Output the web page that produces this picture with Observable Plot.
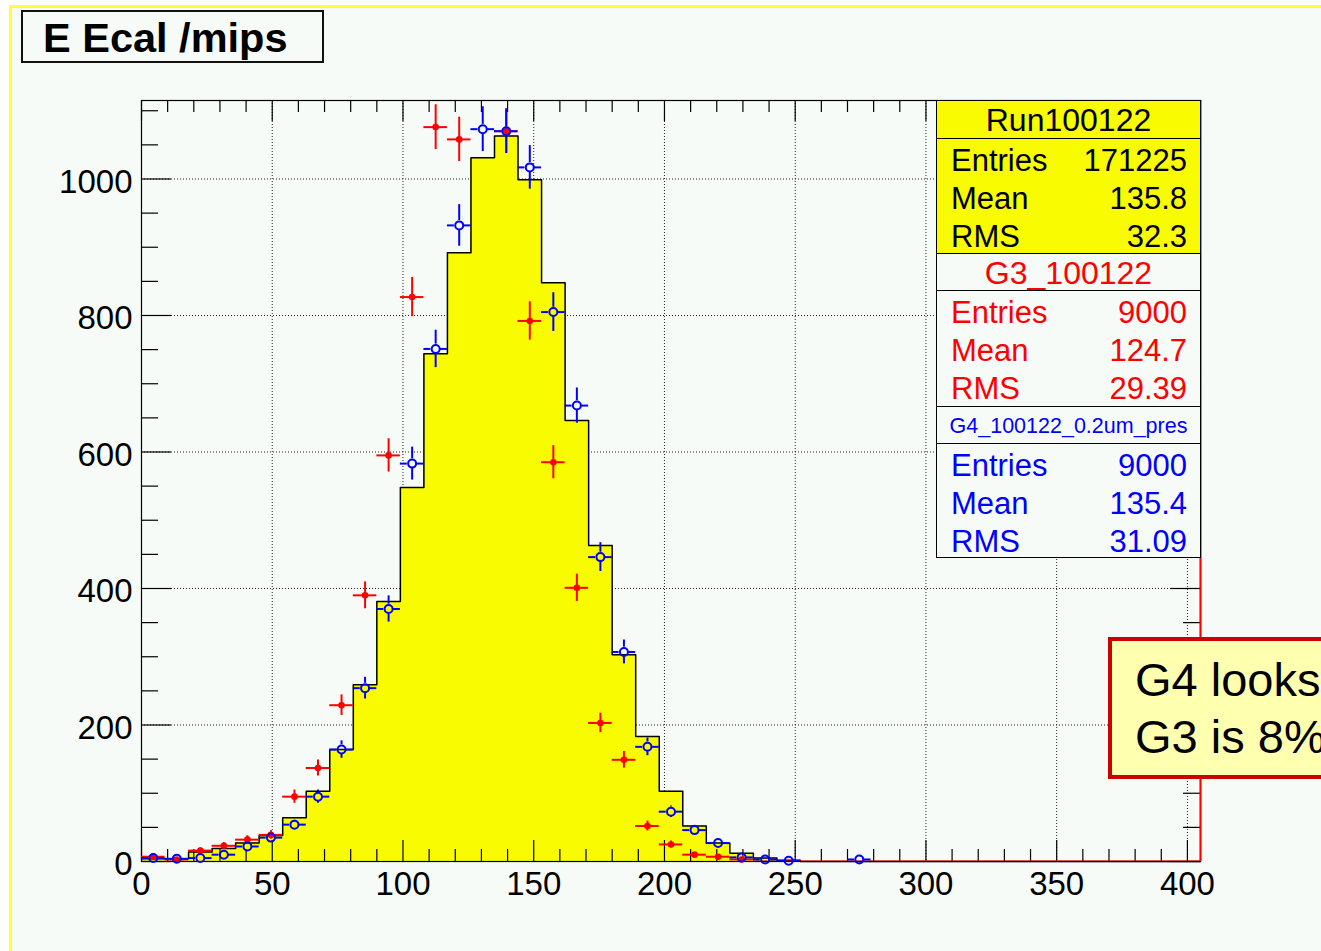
<!DOCTYPE html>
<html>
<head>
<meta charset="utf-8">
<title>E Ecal /mips</title>
<script src="https://cdn.jsdelivr.net/npm/d3@7"></script>
<script src="https://cdn.jsdelivr.net/npm/@observablehq/plot@0.6"></script>
<style>
  * { box-sizing: border-box; }
  html, body { margin: 0; padding: 0; width: 1321px; height: 951px; overflow: hidden; background: #ffffff;
    font-family: "Liberation Sans", Arial, Helvetica, sans-serif; }
  #pad { position: absolute; left: 9px; top: 5px; width: 1400px; height: 1000px; background: #f7fbf7;
    border-top: 3px solid #ffff33; border-left: 3px solid #ffff33; }
  #chart { position: absolute; left: 0; top: 0; }
  #title { position: absolute; left: 21px; top: 10px; width: 303px; height: 53px; border: 2px solid #111;
    font-weight: bold; font-size: 41.5px; line-height: 51px; padding-left: 20px; color: #000; white-space: nowrap; }
  .sec { position: absolute; left: 936px; width: 265px; border: 1px solid #000; overflow: hidden; }
  .hdr { text-align: center; white-space: nowrap; padding-top: 2px; }
  .rows { padding-top: 3px; }
  .row { display: flex; justify-content: space-between; height: 38px; line-height: 38px; font-size: 31px;
    padding: 0 13px 0 14px; white-space: nowrap; }
  #note { position: absolute; left: 1108px; top: 637px; width: 320px; height: 142px; background: #ffffb0;
    border: 4px solid #cc0000; padding: 11px 0 0 23px; font-size: 47px; line-height: 56.6px; color: #000; white-space: nowrap; }
</style>
</head>
<body>
<div id="pad"></div>
<div id="chart"></div>
<div id="title"></div>
<div id="stats"></div>
<div id="note"></div>
<script>
// ---------------- data ----------------
const chartTitle = "E Ecal /mips";
const binWidth = 9;
const xDomain = [0, 405];
const yDomain = [0, 1115];
const binStart = [0,9,18,27,36,45,54,63,72,81,90,99,108,117,126,135,144,153,162,171,180,189,198,207,216,225,234,243,252,261,270,279,288,297,306,315,324,333,342,351,360,369,378,387,396];

// Run100122 data histogram (yellow)
const runCounts = [4,4,14,19,27,38,64,103,164,259,381,548,744,892,1031,1063,999,848,646,463,303,183,103,52,27,12,5,2,0,0,0,0,0,0,0,0,0,0,0,0,0,0,0,0,0];

// G3_100122 (red)
const g3Counts = [7,3,16,23,32,39,95,137,229,390,595,827,1076,1058,1160,1070,792,585,401,203,149,52,25,10,7,3,0,0,0,0,0,0,0,0,0,0,0,0,0,0,0,0,0,0,0];
const g3Errors = [2.6,1.7,4.0,4.8,5.7,6.2,9.7,11.7,15.1,19.7,24.4,28.8,32.8,32.5,34.1,32.7,28.1,24.2,20.0,14.2,12.2,7.2,5.0,3.2,2.6,1.7,0,0,0,0,0,0,0,0,0,0,0,0,0,0,0,0,0,0,0];

// G4_100122_0.2um_pres (blue)
const g4Counts = [5,4,5,10,22,35,54,95,164,254,370,583,751,932,1073,1070,1017,805,668,446,307,168,73,46,27,6,3,1,null,null,3,null,null,null,null,null,null,null,null,null,null,null,null,null,null];
const g4Errors = [2.2,2.0,2.2,3.2,4.7,5.9,7.3,9.7,12.8,15.9,19.2,24.1,27.4,30.5,32.8,32.7,31.9,28.4,25.8,21.1,17.5,13.0,8.5,6.8,5.2,2.4,1.7,1.0,null,null,1.7,null,null,null,null,null,null,null,null,null,null,null,null,null,null];

// axis ticks / labels
const xMajorTicks = [0,50,100,150,200,250,300,350,400];
const xMinorTicks = [10,20,30,40,60,70,80,90,110,120,130,140,160,170,180,190,210,220,230,240,260,270,280,290,310,320,330,340,360,370,380,390];
const xGrid = [50,100,150,200,250,300,350,400];
const yMajorTicks = [0,200,400,600,800,1000];
const yMinorTicks = [50,100,150,250,300,350,450,500,550,650,700,750,850,900,950,1050,1100];
const yGrid = [200,400,600,800,1000];

// stats boxes
const statTitles = ["Run100122", "G3_100122", "G4_100122_0.2um_pres"];
const statLabels = ["Entries", "Mean", "RMS"];
const runStatValues = ["171225", "135.8", "32.3"];
const g3StatValues = ["9000", "124.7", "29.39"];
const g4StatValues = ["9000", "135.4", "31.09"];

const noteLines = ["G4 looks", "G3 is 8%"];

// ---------------- layout / style ----------------
const W = 1321, H = 951;
const mL = 141, mR = 121, mT = 100, mB = 90;
const frameW = W - mL - mR, frameH = H - mT - mB;
const YEL = "#f9fc00", BG = "#f7fbf7", RED = "#ff0000", BLUE = "#0000ff";
const FONT = "Liberation Sans, Arial, Helvetica, sans-serif";

// ---------------- derived tables ----------------
const runStep = binStart.map((x0, i) => ({x: x0, y: runCounts[i]}));
runStep.push({x: binStart[binStart.length - 1] + binWidth, y: runCounts[runCounts.length - 1]});

const g3Rows = binStart.map((x0, i) => ({lo: x0, hi: x0 + binWidth, xc: x0 + binWidth / 2, y: g3Counts[i], e: g3Errors[i]}));
const g4Rows = binStart.map((x0, i) => ({lo: x0, hi: x0 + binWidth, xc: x0 + binWidth / 2, y: g4Counts[i], e: g4Errors[i]}))
  .filter(d => d.y != null);
const gap = 4.8;               // px gap around open marker
const minErr = 6;              // errors shorter than the marker radius are hidden
const g4Err = g4Rows.filter(d => d.e > minErr);

const chart = Plot.plot({
  width: W, height: H,
  marginLeft: mL, marginRight: mR, marginTop: mT, marginBottom: mB,
  x: {domain: xDomain, axis: null},
  y: {domain: yDomain, axis: null},
  style: {background: "transparent", fontFamily: FONT, overflow: "visible"},
  marks: [
    // dotted grid
    Plot.ruleX(xGrid, {stroke: "#222", strokeWidth: 1, strokeDasharray: "1,2"}),
    Plot.ruleY(yGrid, {stroke: "#222", strokeWidth: 1, strokeDasharray: "1,2"}),
    // data histogram
    Plot.areaY(runStep, {x: "x", y: "y", curve: "step-after", fill: YEL}),
    Plot.lineY(runStep, {x: "x", y: "y", curve: "step-after", stroke: "#000", strokeWidth: 1.5}),
    // ticks (inside the frame, all four sides)
    Plot.ruleX(xMajorTicks, {insetTop: frameH - 21, stroke: "#000", strokeWidth: 1.2}),
    Plot.ruleX(xMinorTicks, {insetTop: frameH - 12, stroke: "#000", strokeWidth: 1.2}),
    Plot.ruleX(xMajorTicks, {insetBottom: frameH - 21, stroke: "#000", strokeWidth: 1.2}),
    Plot.ruleX(xMinorTicks, {insetBottom: frameH - 12, stroke: "#000", strokeWidth: 1.2}),
    Plot.ruleY(yMajorTicks, {insetRight: frameW - 30, stroke: "#000", strokeWidth: 1.2}),
    Plot.ruleY(yMinorTicks, {insetRight: frameW - 17, stroke: "#000", strokeWidth: 1.2}),
    Plot.ruleY(yMajorTicks, {insetLeft: frameW - 30, stroke: "#000", strokeWidth: 1.2}),
    Plot.ruleY(yMinorTicks, {insetLeft: frameW - 17, stroke: "#000", strokeWidth: 1.2}),
    // frame
    Plot.frame({stroke: "#000", strokeWidth: 1.2}),
    // red edge line on the right
    Plot.ruleX([xDomain[1]], {stroke: RED, strokeWidth: 2}),
    // G3 red: filled markers with error bars
    Plot.ruleY(g3Rows, {y: "y", x1: "lo", x2: "hi", stroke: RED, strokeWidth: 2, clip: true}),
    Plot.ruleX(g3Rows.filter(d => d.e > 0), {x: "xc", y1: d => d.y + d.e, y2: d => d.y - d.e, stroke: RED, strokeWidth: 2, clip: true}),
    Plot.dot(g3Rows.filter(d => d.y > 0 && d.y < yDomain[1]), {x: "xc", y: "y", r: 3.3, fill: RED, stroke: "none"}),
    // G4 blue: open circles with error bars
    Plot.ruleY(g4Rows, {y: "y", x1: "lo", x2: "xc", insetRight: gap, stroke: BLUE, strokeWidth: 2, clip: true}),
    Plot.ruleY(g4Rows, {y: "y", x1: "xc", x2: "hi", insetLeft: gap, stroke: BLUE, strokeWidth: 2, clip: true}),
    Plot.ruleX(g4Err, {x: "xc", y1: d => d.y + d.e, y2: "y", insetBottom: gap, stroke: BLUE, strokeWidth: 2, clip: true}),
    Plot.ruleX(g4Err, {x: "xc", y1: "y", y2: d => d.y - d.e, insetTop: gap, stroke: BLUE, strokeWidth: 2, clip: true}),
    Plot.dot(g4Rows, {x: "xc", y: "y", r: 4, fill: "none", stroke: BLUE, strokeWidth: 2}),
    // tick labels
    Plot.text(xMajorTicks, {x: d => d, text: d => String(d), frameAnchor: "bottom", dy: 23, lineAnchor: "middle",
      fontSize: 33, fill: "#000", fontFamily: FONT}),
    Plot.text(yMajorTicks, {y: d => d, text: d => String(d), frameAnchor: "left", dx: -9, dy: 3, textAnchor: "end",
      lineAnchor: "middle", fontSize: 33, fill: "#000", fontFamily: FONT})
  ]
});
document.getElementById("chart").appendChild(chart);

// ---------------- title ----------------
document.getElementById("title").textContent = chartTitle;

// ---------------- stats boxes ----------------
const sections = [
  {top: 100, bottom: 138, bg: YEL, color: "#000", title: statTitles[0], size: 32},
  {top: 138, bottom: 253, bg: YEL, color: "#000", values: runStatValues},
  {top: 253, bottom: 290, bg: BG, color: RED, title: statTitles[1], size: 32},
  {top: 290, bottom: 406, bg: BG, color: RED, values: g3StatValues},
  {top: 406, bottom: 443, bg: BG, color: BLUE, title: statTitles[2], size: 21.5},
  {top: 443, bottom: 557, bg: BG, color: BLUE, values: g4StatValues}
];
const stats = document.getElementById("stats");
for (const s of sections) {
  const div = document.createElement("div");
  div.className = "sec " + (s.title ? "hdr" : "rows");
  div.style.top = s.top + "px";
  div.style.height = (s.bottom - s.top + 1) + "px";
  div.style.background = s.bg;
  div.style.color = s.color;
  if (s.title) {
    div.style.fontSize = s.size + "px";
    div.style.lineHeight = (s.bottom - s.top - 3) + "px";
    div.textContent = s.title;
  } else {
    statLabels.forEach((lab, i) => {
      const row = document.createElement("div");
      row.className = "row";
      const a = document.createElement("span"); a.textContent = lab;
      const b = document.createElement("span"); b.textContent = s.values[i];
      row.appendChild(a); row.appendChild(b);
      div.appendChild(row);
    });
  }
  stats.appendChild(div);
}

// ---------------- note ----------------
const note = document.getElementById("note");
noteLines.forEach(t => { const d = document.createElement("div"); d.textContent = t; note.appendChild(d); });
</script>
</body>
</html>
